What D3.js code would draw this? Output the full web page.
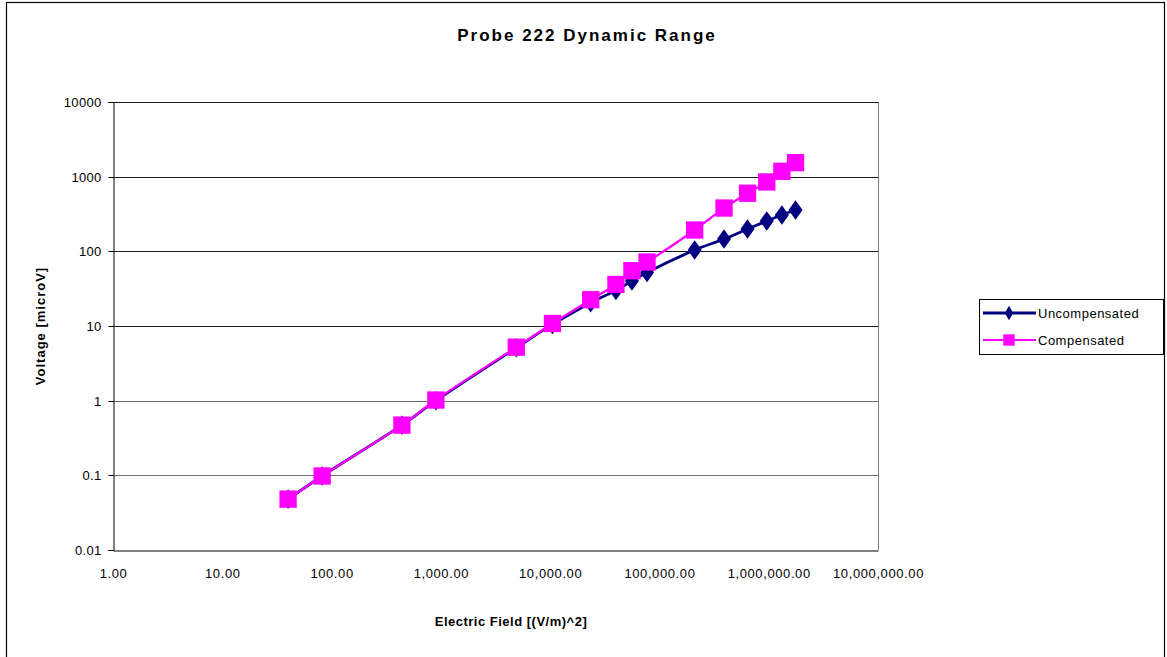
<!DOCTYPE html>
<html>
<head>
<meta charset="utf-8">
<script src="https://cdn.jsdelivr.net/npm/d3@7"></script>
<style>
  body { margin: 0; background: #fff; }
  text { font-family: "Liberation Sans", Arial, sans-serif; fill: #000; }
</style>
</head>
<body>
<svg width="1167" height="657"></svg>
<script>
// data
const field = [40, 82, 440, 900, 4900, 10500, 23500, 40000, 56000, 77000, 210000, 390000, 640000, 960000, 1320000, 1760000];
const uncompensated = [0.048, 0.098, 0.47, 1.0, 5.1, 10.5, 20.5, 30, 40, 52, 104, 146, 199, 255, 307, 358];
const compensated = [0.048, 0.098, 0.47, 1.02, 5.2, 10.8, 22.5, 36, 55, 72, 193, 380, 600, 850, 1180, 1540];
const xTicks = [1, 10, 100, 1000, 10000, 100000, 1000000, 10000000];
const yTicks = [0.01, 0.1, 1, 10, 100, 1000, 10000];

const svg = d3.select("svg");

// outer chart border
svg.append("rect")
  .attr("x", 6.5).attr("y", 2.5)
  .attr("width", 1158).attr("height", 670)
  .attr("fill", "none").attr("stroke", "#000").attr("stroke-width", 1.2);

const margin = {left: 113, top: 102, right: 878, bottom: 550};

const x = d3.scaleLog().domain([1, 1e7]).range([margin.left, margin.right]);
const y = d3.scaleLog().domain([0.01, 10000]).range([margin.bottom, margin.top]);

const fmtX = d3.format(",.2f");
const fmtY = d => String(d);

// gridlines
svg.append("g")
  .selectAll("line")
  .data(yTicks.slice(1))
  .enter().append("line")
  .attr("x1", margin.left).attr("x2", margin.right)
  .attr("y1", d => Math.round(y(d)) + 0.5).attr("y2", d => Math.round(y(d)) + 0.5)
  .attr("stroke", d => d < 10 ? "#6e6e6e" : "#1a1a1a")
  .attr("stroke-width", 1);

// right plot border
svg.append("line")
  .attr("x1", margin.right + 0.5).attr("x2", margin.right + 0.5)
  .attr("y1", margin.top).attr("y2", margin.bottom)
  .attr("stroke", "#808080");

// y axis
const yAxis = svg.append("g")
  .attr("transform", `translate(${margin.left + 0.5},0)`)
  .call(d3.axisLeft(y).tickValues(yTicks).tickFormat(fmtY).tickSize(5).tickPadding(7));
yAxis.select(".domain").attr("stroke", "#000");
yAxis.selectAll(".tick line").attr("stroke", "#000");
yAxis.selectAll("text").style("font-size", "13px").style("letter-spacing", "0.3px").attr("fill", "#000");
yAxis.selectAll(".tick").attr("transform", d => `translate(0,${Math.round(y(d)) + 0.5})`);

// x axis
const xAxis = svg.append("g")
  .attr("transform", `translate(0,${margin.bottom + 0.5})`)
  .call(d3.axisBottom(x).tickValues(xTicks).tickFormat(fmtX).tickSize(0).tickPadding(18));
xAxis.select(".domain").attr("stroke", "#000");
xAxis.selectAll("text").style("font-size", "13px").style("letter-spacing", "0.6px").attr("fill", "#000");

// titles
svg.append("text")
  .attr("x", 587).attr("y", 41)
  .attr("text-anchor", "middle")
  .style("font-size", "17px").style("font-weight", "bold").style("letter-spacing", "2px")
  .text("Probe 222 Dynamic Range");

svg.append("text")
  .attr("x", 511).attr("y", 626)
  .attr("text-anchor", "middle")
  .style("font-size", "13px").style("font-weight", "bold").style("letter-spacing", "0.5px")
  .text("Electric Field [(V/m)^2]");

svg.append("text")
  .attr("transform", "translate(45,326) rotate(-90)")
  .attr("text-anchor", "middle")
  .style("font-size", "13px").style("font-weight", "bold").style("letter-spacing", "1px")
  .text("Voltage [microV]");

// series
const series = [
  {name: "Uncompensated", values: uncompensated, color: "#000080", width: 2.8, shape: d3.symbolDiamond, size: 110},
  {name: "Compensated", values: compensated, color: "#FF00FF", width: 2.2, shape: d3.symbolSquare, size: 300}
];

const line = d3.line()
  .x(d => x(d[0]))
  .y(d => y(d[1]))
  .curve(d3.curveCatmullRom.alpha(0.5));

series.forEach(s => {
  const pts = field.map((f, i) => [f, s.values[i]]);
  svg.append("path")
    .datum(pts)
    .attr("d", line)
    .attr("fill", "none")
    .attr("stroke", s.color)
    .attr("stroke-width", s.width);
  svg.append("g")
    .selectAll("path")
    .data(pts)
    .enter().append("path")
    .attr("d", d3.symbol().type(s.shape).size(s.size))
    .attr("transform", d => `translate(${x(d[0])},${y(d[1])})${s.shape === d3.symbolDiamond ? " scale(1.25,1)" : ""}`)
    .attr("fill", s.color);
});

// legend
const legend = svg.append("g");
legend.append("rect")
  .attr("x", 979.5).attr("y", 299.5)
  .attr("width", 184).attr("height", 55)
  .attr("fill", "#fff").attr("stroke", "#000");

series.forEach((s, i) => {
  const ly = 313 + i * 27;
  legend.append("line")
    .attr("x1", 983).attr("x2", 1036)
    .attr("y1", ly).attr("y2", ly)
    .attr("stroke", s.color).attr("stroke-width", s.width);
  legend.append("path")
    .attr("d", d3.symbol().type(s.shape).size(i === 0 ? 60 : 130))
    .attr("transform", `translate(1009,${ly})`)
    .attr("fill", s.color);
  legend.append("text")
    .attr("x", 1038).attr("y", ly + 5)
    .style("font-size", "13px").style("letter-spacing", "0.5px")
    .text(s.name);
});
</script>
</body>
</html>
